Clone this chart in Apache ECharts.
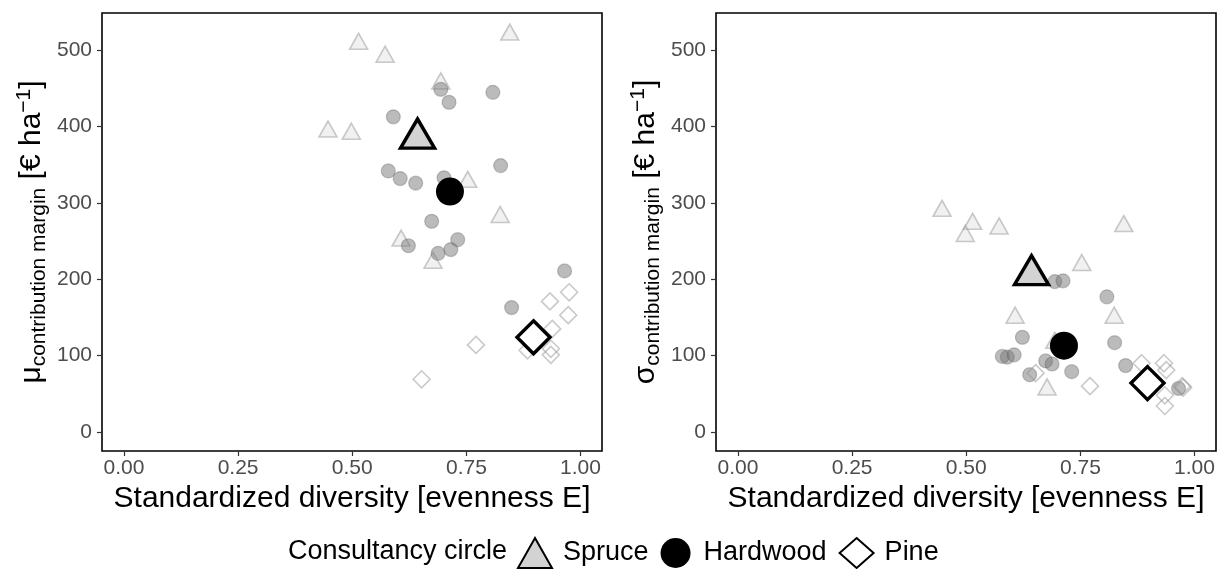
<!DOCTYPE html>
<html>
<head>
<meta charset="utf-8">
<script src="https://cdn.jsdelivr.net/npm/echarts@6/dist/echarts.min.js"></script>
<style>
html,body{margin:0;padding:0;background:#fff;}
#chart{width:1223px;height:569px;}
</style>
</head>
<body>
<div id="chart"></div>
<script>
// ---- data ----
var xTicks = [0, 0.25, 0.5, 0.75, 1];
var yTicks = [0, 100, 200, 300, 400, 500];

var spruceE     = [0.514, 0.572, 0.845, 0.694, 0.447, 0.498, 0.753, 0.824, 0.607, 0.677];
var spruceMu    = [512, 495, 524, 460, 397, 394, 331, 285, 254, 225];
var spruceSigma = [276, 270, 273, 120, 293, 260, 222, 153, 153, 59];

var hardwoodE     = [0.694, 0.712, 0.808, 0.590, 0.825, 0.579, 0.605, 0.639, 0.701, 0.674, 0.623, 0.688, 0.716, 0.731, 0.965, 0.849];
var hardwoodMu    = [449, 432, 445, 413, 349, 342, 332, 326, 333, 276, 244, 234, 239, 252, 211, 163];
var hardwoodSigma = [197, 198, 177, 98, 117, 99, 101, 75, 110, 93, 124, 89, 105, 79, 57, 87];

var pineE     = [0.975, 0.933, 0.973, 0.938, 0.935, 0.935, 0.884, 0.771, 0.652];
var pineMu    = [183, 171, 153, 135, 109, 101, 107, 114, 69];
var pineSigma = [58, 90, 60, 81, 48, 34, 90, 60, 77];

var groups     = ['Spruce', 'Hardwood', 'Pine'];
var meanE      = [0.643, 0.714, 0.897];
var meanMu     = [391, 315, 124];
var meanSigma  = [212, 113, 64];

// ---- helpers ----
var FONT = 'Liberation Sans, Arial, Helvetica, sans-serif';
function pairs(xs, ys) { return xs.map(function (x, i) { return [x, ys[i]]; }); }

function panelAxes(idx) {
  var greek = idx === 0 ? 'μ' : 'σ';
  return {
    x: {
      type: 'value', gridIndex: idx, min: -0.048, max: 1.047,
      axisLine: { show: false, onZero: false },
      axisTick: { show: true, length: 5, lineStyle: { color: '#333', width: 1.2 }, customValues: xTicks },
      axisLabel: { color: '#4d4d4d', fontSize: 21, fontFamily: FONT, margin: 7, customValues: xTicks,
                   formatter: function (v) { return v.toFixed(2); } },
      splitLine: { show: false },
      name: 'Standardized diversity [evenness E]',
      nameLocation: 'middle', nameGap: 31,
      nameTextStyle: { color: '#000', fontSize: 30, fontFamily: FONT }
    },
    y: {
      type: 'value', gridIndex: idx, min: -25, max: 549,
      axisLine: { show: false, onZero: false },
      axisTick: { show: true, length: 5, lineStyle: { color: '#333', width: 1.2 }, customValues: yTicks },
      axisLabel: { color: '#4d4d4d', fontSize: 21, fontFamily: FONT, margin: 10, customValues: yTicks },
      splitLine: { show: false },
      name: '{mu|' + greek + '}{sub|contribution margin}{t| [€ ha}{sup|−1}{t|]}',
      nameLocation: 'middle', nameGap: 52, nameRotate: 90,
      nameTextStyle: {
        color: '#000', fontFamily: FONT,
        rich: {
          mu:  { fontSize: 30, lineHeight: 36, fontFamily: FONT, color: '#000' },
          t:   { fontSize: 30, lineHeight: 36, fontFamily: FONT, color: '#000' },
          sub: { fontSize: 21, lineHeight: 21, verticalAlign: 'bottom', fontFamily: FONT, color: '#000' },
          sup: { fontSize: 21, lineHeight: 21, verticalAlign: 'top', fontFamily: FONT, color: '#000' }
        }
      }
    }
  };
}

function panelSeries(idx, ySpruce, yHard, yPine, yMean) {
  var s = [];
  s.push({
    name: 'Spruce stands', type: 'scatter', xAxisIndex: idx, yAxisIndex: idx,
    data: pairs(spruceE, ySpruce), symbol: 'triangle', symbolSize: [18, 16],
    itemStyle: { color: 'rgba(215,215,215,0.35)', borderColor: 'rgba(140,140,140,0.45)', borderWidth: 1.6, opacity: 1 },
    emphasis: { disabled: true }, z: 2
  });
  s.push({
    name: 'Hardwood stands', type: 'scatter', xAxisIndex: idx, yAxisIndex: idx,
    data: pairs(hardwoodE, yHard), symbol: 'circle', symbolSize: 14,
    itemStyle: { color: 'rgba(120,120,120,0.5)', borderColor: 'rgba(80,80,80,0.3)', borderWidth: 1.2, opacity: 1 },
    emphasis: { disabled: true }, z: 2
  });
  s.push({
    name: 'Pine stands', type: 'scatter', xAxisIndex: idx, yAxisIndex: idx,
    data: pairs(pineE, yPine), symbol: 'diamond', symbolSize: 17,
    itemStyle: { color: 'rgba(255,255,255,0)', borderColor: 'rgba(150,150,150,0.5)', borderWidth: 1.6, opacity: 1 },
    emphasis: { disabled: true }, z: 2
  });
  var symbols = ['triangle', 'circle', 'diamond'];
  var sizes = [[34, 29], 28, 33];
  var styles = [
    { color: '#d3d3d3', borderColor: '#000', borderWidth: 3.4, opacity: 1 },
    { color: '#000', borderColor: '#000', borderWidth: 0, opacity: 1 },
    { color: '#fff', borderColor: '#000', borderWidth: 3.4, opacity: 1 }
  ];
  groups.forEach(function (g, i) {
    s.push({
      name: g, type: 'scatter', xAxisIndex: idx, yAxisIndex: idx,
      data: [[meanE[i], yMean[i]]], symbol: symbols[i], symbolSize: sizes[i],
      itemStyle: styles[i], emphasis: { disabled: true }, z: 3
    });
  });
  return s;
}

var a0 = panelAxes(0), a1 = panelAxes(1);

var option = {
  backgroundColor: '#fff',
  animation: false,
  textStyle: { fontFamily: FONT },
  grid: [
    { left: 102, top: 13, width: 500, height: 438, show: true, borderColor: '#000', borderWidth: 1.6, backgroundColor: 'transparent' },
    { left: 716, top: 13, width: 500, height: 438, show: true, borderColor: '#000', borderWidth: 1.6, backgroundColor: 'transparent' }
  ],
  xAxis: [a0.x, a1.x],
  yAxis: [a0.y, a1.y],
  title: {
    text: 'Consultancy circle', left: 288, top: 538, padding: 0,
    textStyle: { fontSize: 27, fontWeight: 'normal', color: '#000', fontFamily: FONT, lineHeight: 28 }
  },
  legend: {
    left: 517, top: 537, padding: 0, itemWidth: 34, itemHeight: 30, itemGap: 12,
    textStyle: { fontSize: 27, color: '#000', fontFamily: FONT, padding: [0, 0, 0, 6] },
    data: [
      { name: 'Spruce', icon: 'triangle' },
      { name: 'Hardwood', icon: 'circle' },
      { name: 'Pine', icon: 'diamond' }
    ],
    selectedMode: false
  },
  series: panelSeries(0, spruceMu, hardwoodMu, pineMu, meanMu)
    .concat(panelSeries(1, spruceSigma, hardwoodSigma, pineSigma, meanSigma))
};

var chart = echarts.init(document.getElementById('chart'), null, { renderer: 'canvas' });
chart.setOption(option);
</script>
</body>
</html>
